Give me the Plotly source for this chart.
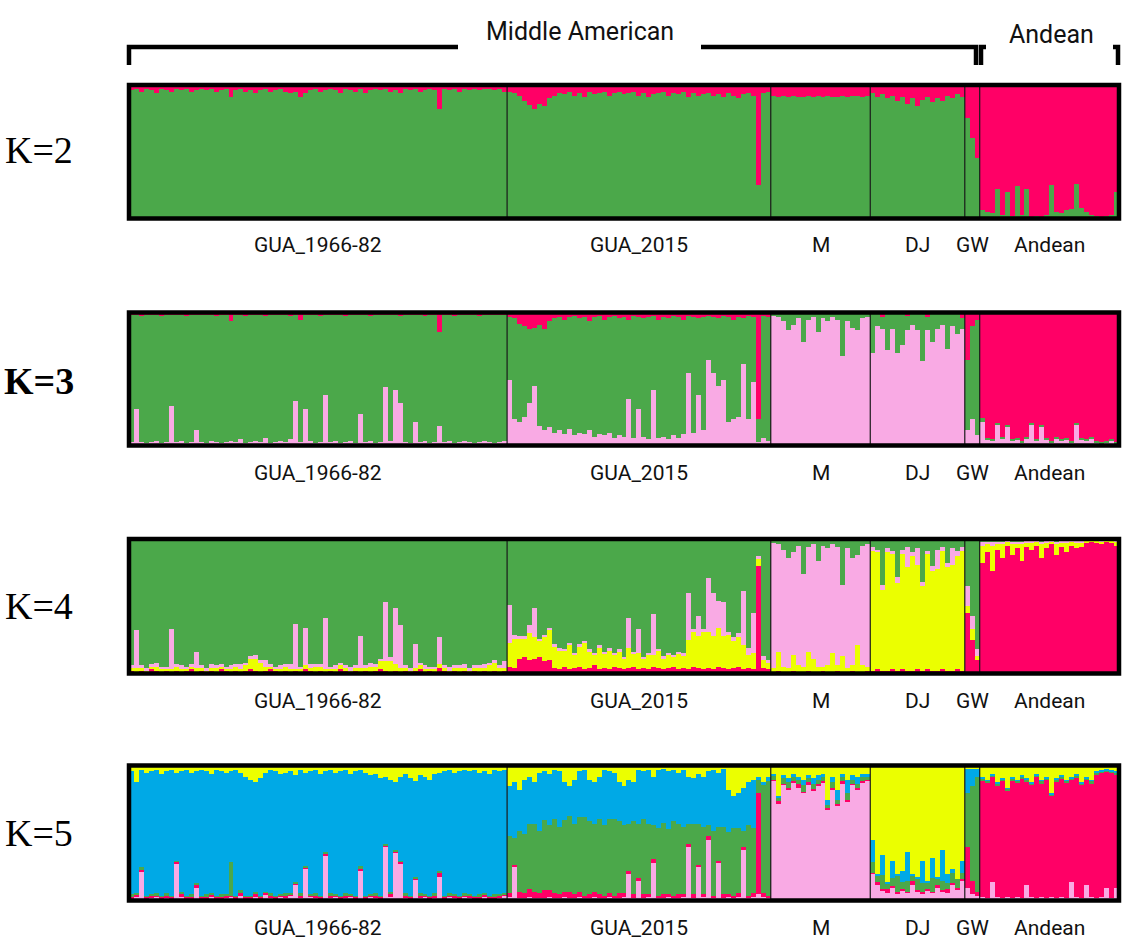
import plotly.graph_objects as go

# ---------------- data ----------------
groups = ["GUA_1966-82", "GUA_2015", "M", "DJ", "GW", "Andean"]
group_sizes = [76, 53, 20, 19, 3, 28]

# ---- K=2 (green = remainder) ----
k2_red = (
    [4,3,5,3,4,6,3,4,5,3, 4,3,5,4,3,4,3,5,4,3, 9,4,3,5,4,6,4,3,5,4, 3,5,6,5,9,6,4,3,5,4,
     3,4,6,3,4,5,3,6,4,3, 4,3,5,4,6,3,4,3,5,4, 3,4,18,3,4,3,5,3,4,3, 4,3,3,4,3,5]
    + [5,6,8,12,15,18,14,16,10,8, 6,7,5,8,6,9,5,7,6,5, 8,6,5,7,6,5,8,6,9,7, 6,5,8,6,7,5,9,6,8,7,
       6,8,7,9,6,8,10,7,6,8, 75,6,5]
    + [8,9,8,9,8,9,9,8,9,8, 9,8,9,9,8,9,8,8,9,8]
    + [6,9,7,10,8,12,9,14,10,16, 11,9,13,10,12,8,10,7,9]
    + [25,40,55]
    + [94,95,96,78,97,80,98,76,97,78, 99,98,99,97,75,95,96,94,93,74, 92,95,97,98,99,98,97,80]
)

# ---- K=3 (green = remainder) ----
k3_pink = (
    [3,28,3,2,3,4,2,3,30,3, 4,2,3,12,3,2,4,3,2,3, 4,3,5,2,3,4,3,6,2,3, 4,3,5,34,3,28,4,2,3,38,
     3,4,2,3,4,2,24,3,4,2, 3,44,4,42,32,3,2,18,3,4, 2,3,15,3,4,2,3,4,3,2, 3,4,3,2,3,4]
    + [50,20,18,22,32,45,15,12,14,10, 12,9,13,8,10,9,12,7,9,8, 10,6,8,7,35,6,28,7,5,42,
       6,7,5,8,6,9,55,10,38,12, 65,55,45,50,18,20,22,62,20,48, 3,6,4]
    + [98,97,94,87,91,96,78,95,97,86, 96,94,97,95,68,94,89,87,96,97]
    + [70,90,88,72,88,70,76,87,91,87, 64,87,78,88,91,73,90,84,88]
    + [12,20,8]
    + [18,5,4,16,6,15,4,5,3,6, 16,4,15,5,3,6,4,5,3,16, 5,4,6,3,2,3,4,2]
)
k3_red = (
    [1,1,2,1,1,1,2,1,1,1, 1,2,1,1,1,1,1,2,1,1, 6,1,1,2,1,1,1,2,1,1, 1,1,2,1,5,1,1,1,2,1,
     1,1,1,2,1,1,1,1,2,1, 1,1,1,1,2,1,1,1,1,2, 1,1,14,1,1,2,1,1,1,1, 2,1,1,1,1,1]
    + [3,4,8,10,12,11,9,12,6,4, 3,5,3,2,4,3,6,3,2,5, 3,2,4,3,5,2,3,4,3,2, 5,3,4,2,3,5,2,3,4,3,
       2,3,4,2,3,5,3,4,2,3, 80,2,3]
    + [0,0,0,0,0,0,0,0,0,0, 0,0,0,0,0,0,0,0,0,0]
    + [0,0,3,0,0,0,0,2,0,0, 0,3,0,0,0,0,0,0,4]
    + [35,10,5]
    + [79,94,95,83,93,84,95,94,96,93, 83,95,84,94,96,93,95,94,96,83, 94,95,93,96,97,96,95,97]
)

# ---- K=4 (green = remainder) ----
k4_red = (
    [2,1,2,1,3,2,1,2,1,2, 1,2,3,1,2,1,2,1,3,2, 1,2,1,2,3,2,1,2,3,2, 1,2,1,2,1,3,2,1,2,1,
     2,1,3,2,1,2,1,2,1,2, 3,2,1,2,1,2,1,2,3,1, 2,1,4,2,1,2,1,2,1,2, 1,2,1,2,1,2]
    + [5,4,11,12,10,11,12,9,10,4, 3,5,3,4,5,3,4,6,3,4, 3,5,4,3,4,5,3,4,3,5, 4,3,4,5,3,4,3,5,4,3,
       4,3,5,4,3,4,5,3,4,3, 80,4,3]
    + [1,2,1,1,2,1,1,2,1,1, 2,1,1,2,1,1,2,1,1,2]
    + [2,3,2,2,3,2,3,2,2,3, 2,3,2,2,3,2,2,3,2]
    + [45,25,10]
    + [82,90,76,92,86,95,88,93,84,94, 92,95,86,93,96,88,94,90,95,93, 94,97,98,97,96,98,97,95]
)
k4_yellow = (
    [2,3,2,1,2,3,2,1,2,3, 2,1,2,3,2,1,2,3,2,1, 2,3,2,4,8,9,7,3,2,1, 2,3,2,1,2,3,2,4,3,2,
     1,2,3,2,1,2,3,2,4,3, 6,7,8,5,3,2,1,2,3,2, 1,2,3,2,1,2,3,2,1,2, 3,2,5,6,3,2]
    + [18,22,15,14,20,16,12,18,22,16, 14,12,18,10,15,20,12,8,16,11, 14,9,12,8,15,10,12,7,11,9,
       13,8,10,7,12,9,22,26,24,28, 27,25,29,24,26,20,22,18,10,12, 5,6,5]
    + [3,14,4,3,12,5,4,14,10,4, 3,5,14,4,12,3,4,20,5,3]
    + [89,87,60,88,86,65,86,77,85,78, 63,86,74,76,88,77,79,84,89]
    + [5,8,3]
    + [13,6,19,4,10,3,8,4,12,3, 5,3,10,4,2,8,3,7,3,4, 3,2,1,2,2,1,2,3]
)
k4_pink = (
    [2,28,2,2,2,3,2,2,30,2, 3,2,2,12,2,2,3,2,2,2, 3,2,4,2,2,3,2,5,2,2, 3,2,4,34,2,28,3,2,2,38,
     2,3,2,2,3,2,24,2,3,2, 2,44,3,42,32,2,2,18,2,3, 2,2,20,2,3,2,2,3,2,2, 2,3,2,2,2,5]
    + [28,3,2,2,6,22,2,2,2,2, 2,1,2,1,2,1,2,1,2,1, 2,1,2,1,22,1,18,1,1,30, 1,2,1,2,1,2,35,2,15,2,
       40,32,20,25,2,3,3,40,5,30, 2,3,2]
    + [93,80,87,82,76,89,69,78,85,79, 90,87,81,88,53,89,80,67,89,91]
    + [3,2,4,3,2,5,3,15,3,12, 3,2,4,14,3,3,12,4,3]
    + [15,10,5]
    + [3,2,3,2,2,1,2,1,2,2, 2,1,2,2,1,2,2,2,1,2, 2,1,1,1,1,1,1,1]
)

# ---- K=5 (blue = remainder) ----
k5_pink = (
    [2,3,22,2,2,3,2,2,2,28, 3,2,2,10,2,2,3,2,2,2, 3,2,4,2,2,3,2,5,2,2, 3,2,4,12,2,24,3,2,2,34,
     2,3,2,2,3,2,22,2,3,2, 2,40,3,36,28,2,2,16,2,3, 2,2,18,2,3,2,2,3,2,2, 2,3,2,2,2,4]
    + [3,25,2,2,3,2,2,2,3,2, 2,3,2,2,3,2,2,3,2,2, 3,2,2,3,20,2,15,2,3,28, 2,2,3,2,2,3,40,2,25,3,
       45,2,28,2,3,2,3,38,2,3, 5,3,2]
    + [89,72,86,82,88,84,80,86,82,85, 88,68,82,71,87,74,86,82,88,89]
    + [20,12,8,6,10,5,8,6,12,7, 5,8,6,10,7,6,12,8,15]
    + [10,5,4]
    + [3,2,14,3,2,3,2,3,2,12, 3,2,3,2,3,2,3,2,14,3, 2,12,3,2,3,10,2,10]
)
k5_red = (
    [1,2,1,1,2,1,1,2,1,1, 2,1,1,2,1,1,2,1,1,2, 1,1,2,1,1,2,1,1,2,1, 1,2,1,1,2,1,1,2,1,1,
     2,1,1,2,1,1,2,1,1,2, 1,1,2,1,1,2,1,1,2,1, 1,2,3,1,1,2,1,1,2,1, 1,2,1,1,2,1]
    + [3,2,5,4,6,5,4,6,5,4, 3,4,5,3,4,2,3,4,3,2, 3,2,4,3,2,3,2,3,2,3, 2,3,2,2,3,2,2,3,2,2,
       3,2,2,3,2,2,3,2,2,3, 75,3,2]
    + [1,2,1,2,1,3,1,2,1,2, 1,1,2,1,2,1,1,2,1,1]
    + [1,2,1,3,1,2,1,1,3,1, 2,1,1,2,1,3,1,2,1]
    + [30,10,3]
    + [86,86,78,82,87,79,87,85,89,76, 83,90,84,88,75,86,88,86,76,88, 84,78,84,92,92,86,93,84]
)
k5_green = (
    [2,1,2,1,1,2,1,2,1,1, 2,1,2,1,1,2,1,1,2,1, 25,1,2,1,1,2,1,1,2,1, 1,2,1,1,2,1,1,2,1,1,
     2,1,1,2,1,1,2,1,1,2, 1,1,2,1,1,2,1,1,2,1, 1,2,1,1,2,1,1,2,1,1, 2,1,1,2,1,1]
    + [42,20,45,44,48,50,46,52,48,55, 50,53,56,52,55,58,54,50,56,52, 55,57,53,50,35,54,40,56,52,25,
       50,53,48,55,52,50,15,52,30,50, 8,48,25,50,46,50,48,12,52,48, 10,80,85]
    + [3,2,4,4,3,3,5,3,4,3, 3,2,4,3,3,5,3,3,3,2]
    + [8,5,10,4,6,12,5,8,4,9, 6,4,10,5,7,4,8,6,5]
    + [40,70,85]
    + [2,1,1,2,1,1,2,1,1,2, 1,1,2,1,1,2,1,1,1,2, 1,1,2,1,1,1,1,1]
)
k5_yellow = (
    [4,12,3,5,4,3,6,4,3,5, 4,3,5,4,3,4,6,3,4,5, 4,3,5,8,10,12,9,5,3,4, 6,5,4,7,3,5,4,3,6,4,
     3,5,4,3,6,4,3,5,7,6, 9,8,10,12,8,6,9,11,7,8, 10,6,5,4,3,5,4,3,4,3, 5,4,6,3,4,3]
    + [15,12,18,10,8,12,5,4,6,3, 4,12,15,10,4,3,10,12,8,3, 4,5,12,15,10,12,3,4,3,8,
       3,2,4,3,5,3,8,9,6,8, 4,3,5,2,18,22,20,16,12,10, 8,12,8]
    + [6,22,7,9,6,8,10,7,9,7, 6,25,8,18,6,10,7,8,6,6]
    + [55,80,66,86,70,80,78,64,80,82, 70,85,68,82,62,80,76,84,70]
    + [2,2,2]
    + [8,10,6,12,9,16,8,10,7,9, 12,6,10,8,20,9,7,10,8,6, 12,8,10,4,3,2,3,4]
)

# ---------------- styling ----------------
COLORS = {
    "green": "#4BA84A",
    "red": "#FF0066",
    "pink": "#F9AAE4",
    "yellow": "#EBFF00",
    "blue": "#00A9E6",
}

panels = [
    dict(label="K=2", bold=False, order=["green", "red"], residual="green",
         data={"red": k2_red}),
    dict(label="K=3", bold=True, order=["pink", "green", "red"], residual="green",
         data={"pink": k3_pink, "red": k3_red}),
    dict(label="K=4", bold=False, order=["red", "yellow", "pink", "green"], residual="green",
         data={"red": k4_red, "yellow": k4_yellow, "pink": k4_pink}),
    dict(label="K=5", bold=False, order=["pink", "red", "green", "blue", "yellow"], residual="blue",
         data={"pink": k5_pink, "red": k5_red, "green": k5_green, "yellow": k5_yellow}),
]

W, H = 1126, 951
N = sum(group_sizes)
xs = list(range(N))
frames_px = [(85, 218.5), (312.5, 445.5), (539, 673.5), (765.5, 900.5)]
k_label_y = [150, 381, 606, 833]
XL, XR = 129, 1119

SANS = "Roboto, Liberation Sans, sans-serif"
SERIF = "Liberation Serif, Times New Roman, serif"


def P(px, py):
    return px / W, 1 - py / H


fig = go.Figure()
shapes = []
annotations = []
layout_axes = {}

bounds = []
c = 0
for s in group_sizes[:-1]:
    c += s
    bounds.append(c - 0.5)
centers = []
c = 0
for s in group_sizes:
    centers.append(c + (s - 1) / 2)
    c += s

for p, panel in enumerate(panels):
    sfx = "" if p == 0 else str(p + 1)
    comps = dict(panel["data"])
    for k, v in comps.items():
        assert len(v) == N, (panel["label"], k, len(v))
    comps[panel["residual"]] = [
        max(0, 100 - sum(panel["data"][k][i] for k in panel["data"])) for i in range(N)
    ]
    for cl in panel["order"]:
        fig.add_trace(go.Bar(
            x=xs, y=comps[cl], width=1.0,
            marker=dict(color=COLORS[cl], line=dict(width=0)),
            xaxis="x" + sfx, yaxis="y" + sfx,
            showlegend=False, hoverinfo="skip",
        ))
    top, bot = frames_px[p]
    layout_axes["xaxis" + sfx] = dict(
        domain=[XL / W, XR / W], range=[-0.5, N - 0.5], visible=False,
        anchor="y" + sfx, fixedrange=True)
    layout_axes["yaxis" + sfx] = dict(
        domain=[1 - bot / H, 1 - top / H], range=[0, 100], visible=False,
        anchor="x" + sfx, fixedrange=True)
    for b in bounds:
        shapes.append(dict(type="line", xref="x" + sfx, yref="y" + sfx + " domain",
                           x0=b, x1=b, y0=0, y1=1,
                           line=dict(color="#1a1a1a", width=1.2), layer="above"))
    shapes.append(dict(type="rect", xref="x" + sfx + " domain", yref="y" + sfx + " domain",
                       x0=0, x1=1, y0=0, y1=1,
                       line=dict(color="black", width=4.5), layer="above"))
    for g, cx in zip(groups, centers):
        annotations.append(dict(
            x=cx, xref="x" + sfx, y=1 - (bot + 27) / H, yref="paper",
            text=g, showarrow=False, xanchor="center", yanchor="middle",
            font=dict(family=SANS, size=21, color="#111")))
    txt = "<b>%s</b>" % panel["label"] if panel["bold"] else panel["label"]
    annotations.append(dict(
        x=39 / W, y=1 - k_label_y[p] / H, xref="paper", yref="paper",
        text=txt, showarrow=False, xanchor="center", yanchor="middle",
        font=dict(family=SERIF, size=38, color="black")))


def path(points):
    d = ""
    for i, (px, py) in enumerate(points):
        x, y = P(px, py)
        d += ("M" if i == 0 else "L") + " %.5f %.5f " % (x, y)
    return d


for pts in [
    [(129, 65), (129, 47), (458, 47)],
    [(701, 47), (976, 47), (976, 65)],
    [(986, 47), (981, 47), (981, 65)],
    [(1113, 47), (1118, 47), (1118, 65)],
]:
    shapes.append(dict(type="path", xref="paper", yref="paper", path=path(pts),
                       line=dict(color="black", width=4.5)))

x0, y0 = P(580, 31)
annotations.append(dict(x=x0, y=y0, xref="paper", yref="paper", text="Middle American",
                        showarrow=False, xanchor="center", yanchor="middle",
                        font=dict(family=SANS, size=25, color="#111")))
x0, y0 = P(1051, 34)
annotations.append(dict(x=x0, y=y0, xref="paper", yref="paper", text="Andean",
                        showarrow=False, xanchor="center", yanchor="middle",
                        font=dict(family=SANS, size=25, color="#111")))

fig.update_layout(
    width=W, height=H, margin=dict(l=0, r=0, t=0, b=0),
    paper_bgcolor="white", plot_bgcolor="white",
    barmode="stack", bargap=0,
    shapes=shapes, annotations=annotations,
    **layout_axes,
)

fig.write_html("out.html", config={"displayModeBar": False})
